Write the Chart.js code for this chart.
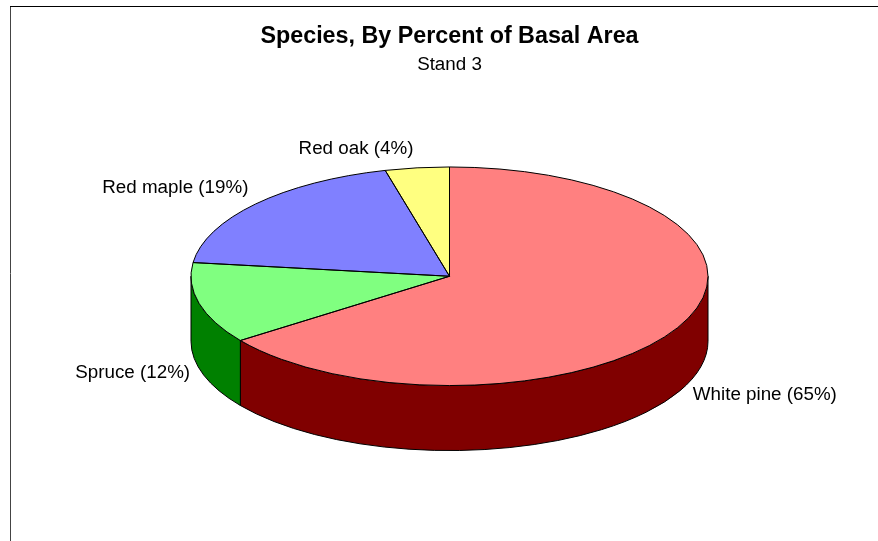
<!DOCTYPE html>
<html>
<head>
<meta charset="utf-8">
<title>Species, By Percent of Basal Area</title>
<script src="https://cdn.jsdelivr.net/npm/chart.js@4"></script>
<style>
  html, body { margin: 0; padding: 0; background: #fff; overflow: hidden; }
  canvas { display: block; }
</style>
</head>
<body>
<canvas id="myChart" width="878" height="541"></canvas>
<script>
const species = ['White pine', 'Spruce', 'Red maple', 'Red oak'];
const percents = [65, 12, 19, 4];
const topColors = ['#ff8080', '#80ff80', '#8080ff', '#ffff80'];
const sideColors = ['#800000', '#008000', '#000080', '#808000'];

const FONT = '"Liberation Sans", Arial, sans-serif';
const SQUASH = 109.3 / 258.5;
const DEPTH = 65;

// frame round the chart, open at the right and the bottom
const framePlugin = {
  id: 'frame',
  beforeDraw(chart) {
    const ctx = chart.ctx;
    ctx.save();
    ctx.lineWidth = 1;
    ctx.strokeStyle = '#444';
    ctx.beginPath();
    ctx.moveTo(10.5, 541);
    ctx.lineTo(10.5, 6);
    ctx.stroke();
    ctx.strokeStyle = '#000';
    ctx.beginPath();
    ctx.moveTo(10, 6.5);
    ctx.lineTo(878, 6.5);
    ctx.stroke();
    ctx.restore();
  }
};

// the library draws flat arcs, this tips them over and adds the wall and outlines
const tiltPlugin = {
  id: 'tilt',
  beforeDatasetsDraw(chart) {
    const ctx = chart.ctx;
    const arcs = chart.getDatasetMeta(0).data;
    const cx = arcs[0].x, cy = arcs[0].y;
    const rx = arcs[0].outerRadius, ry = rx * SQUASH;

    ctx.save();
    ctx.strokeStyle = '#000';
    ctx.lineWidth = 1;
    arcs.forEach((arc, i) => {
      const a = Math.max(arc.startAngle, 0);
      const b = Math.min(arc.endAngle, Math.PI);
      if (b <= a) return;
      ctx.beginPath();
      ctx.ellipse(cx, cy, rx, ry, 0, a, b);
      ctx.ellipse(cx, cy + DEPTH, rx, ry, 0, b, a, true);
      ctx.closePath();
      ctx.fillStyle = sideColors[i];
      ctx.fill();
      ctx.stroke();
    });
    ctx.restore();

    ctx.save();
    ctx.translate(cx, cy);
    ctx.scale(1, SQUASH);
    ctx.translate(-cx, -cy);
  },
  afterDatasetsDraw(chart) {
    const ctx = chart.ctx;
    ctx.restore();

    const arcs = chart.getDatasetMeta(0).data;
    const cx = arcs[0].x, cy = arcs[0].y;
    const rx = arcs[0].outerRadius, ry = rx * SQUASH;

    ctx.save();
    ctx.strokeStyle = '#000';
    ctx.lineWidth = 1;
    arcs.forEach((arc) => {
      ctx.beginPath();
      ctx.moveTo(cx, cy);
      ctx.ellipse(cx, cy, rx, ry, 0, arc.startAngle, arc.endAngle);
      ctx.closePath();
      ctx.stroke();
    });

    ctx.fillStyle = '#000';
    ctx.font = '18.8px ' + FONT;
    ctx.textBaseline = 'middle';
    arcs.forEach((arc, i) => {
      const mid = (arc.startAngle + arc.endAngle) / 2;
      const px = cx + rx * Math.cos(mid);
      const py = cy + ry * Math.sin(mid);
      const text = species[i] + ' (' + percents[i] + '%)';
      if (Math.sin(mid) > 0) {
        const right = Math.cos(mid) > 0;
        ctx.textAlign = right ? 'left' : 'right';
        ctx.fillText(text, px + (right ? 13 : -9), py + DEPTH + 4);
      } else {
        ctx.textAlign = 'right';
        ctx.fillText(text, px - 3 + 5.6 * Math.cos(mid), py - 10 + 9 * Math.sin(mid));
      }
    });
    ctx.restore();
  }
};

const ctx = document.getElementById('myChart');
const myChart = new Chart(ctx, {
  type: 'pie',
  data: {
    labels: species,
    datasets: [{
      data: percents,
      backgroundColor: topColors,
      borderWidth: 0,
      radius: 258.5,
      clip: false
    }]
  },
  options: {
    responsive: false,
    animation: false,
    events: [],
    layout: { padding: { left: 21, right: 0, top: 0, bottom: 65 } },
    plugins: {
      legend: { display: false },
      tooltip: { enabled: false },
      title: {
        display: true,
        text: 'Species, By Percent of Basal Area',
        color: '#000',
        font: { family: FONT, size: 23.3, weight: 'bold' },
        padding: { top: 23, bottom: 0 }
      },
      subtitle: {
        display: true,
        text: 'Stand 3',
        color: '#000',
        font: { family: FONT, size: 18.8, weight: 'normal' },
        padding: { top: 3, bottom: 0 }
      }
    }
  },
  plugins: [framePlugin, tiltPlugin]
});
</script>
</body>
</html>
